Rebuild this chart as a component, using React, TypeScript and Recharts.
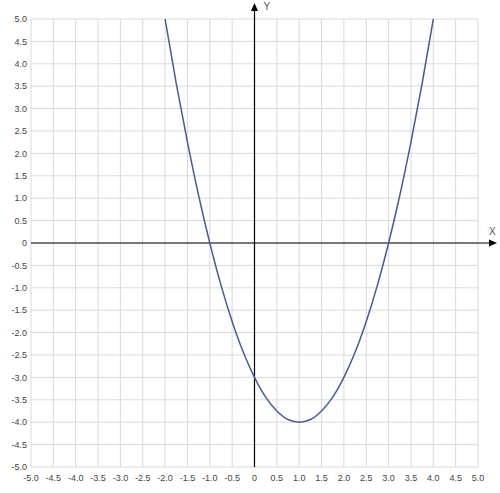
import { CartesianGrid, Line, LineChart, ReferenceLine, XAxis, YAxis } from "recharts";

const xValues = [-2, -1.75, -1.5, -1.25, -1, -0.75, -0.5, -0.25, 0, 0.25, 0.5, 0.75, 1, 1.25, 1.5, 1.75, 2, 2.25, 2.5, 2.75, 3, 3.25, 3.5, 3.75, 4];
const yValues = [5, 3.56, 2.25, 1.06, 0, -0.94, -1.75, -2.44, -3, -3.44, -3.75, -3.94, -4, -3.94, -3.75, -3.44, -3, -2.44, -1.75, -0.94, 0, 1.06, 2.25, 3.56, 5];
const ticks = [-5, -4.5, -4, -3.5, -3, -2.5, -2, -1.5, -1, -0.5, 0, 0.5, 1, 1.5, 2, 2.5, 3, 3.5, 4, 4.5, 5];

const data = xValues.map((x, i) => ({ x, y: yValues[i] }));
const fmt = (v: number) => (v === 0 ? "0" : v.toFixed(1));
const tickStyle = { fontSize: 9, fill: "#444", fontFamily: "Liberation Sans, Arial, sans-serif" };

const YArrow = (props: any) => {
  const { x1, y1, y2 } = props;
  const top = Math.min(y1, y2) - 16;
  const bottom = Math.max(y1, y2);
  return (
    <g>
      <line x1={x1} y1={bottom} x2={x1} y2={top + 6} stroke="#000" strokeWidth={1.2} />
      <polygon points={`${x1},${top} ${x1 - 3.5},${top + 8} ${x1 + 3.5},${top + 8}`} fill="#000" />
      <text x={x1 + 9} y={top + 7} fontSize={10} fill="#555" fontFamily="Liberation Sans, Arial, sans-serif">Y</text>
    </g>
  );
};

const XArrow = (props: any) => {
  const { x1, x2, y1 } = props;
  const left = Math.min(x1, x2);
  const right = Math.max(x1, x2) + 19;
  return (
    <g>
      <line x1={left} y1={y1} x2={right - 6} y2={y1} stroke="#000" strokeWidth={1.2} />
      <polygon points={`${right},${y1} ${right - 8},${y1 - 3.5} ${right - 8},${y1 + 3.5}`} fill="#000" />
      <text x={right - 8} y={y1 - 8} fontSize={10} fill="#555" fontFamily="Liberation Sans, Arial, sans-serif">X</text>
    </g>
  );
};

export default function App() {
  return (
    <div style={{ position: "absolute", left: 0, top: 0, width: 500, height: 493, background: "#fff" }}>
      <LineChart width={500} height={493} data={data} margin={{ top: 19, right: 22, left: 0, bottom: 0 }}>
        <CartesianGrid stroke="#d9d9d9" />
        <XAxis
          dataKey="x"
          type="number"
          domain={[-5, 5]}
          ticks={ticks}
          tickFormatter={fmt}
          interval={0}
          tickLine={false}
          axisLine={false}
          tick={tickStyle}
          height={26}
          tickSize={0}
          tickMargin={8}
        />
        <YAxis
          dataKey="y"
          type="number"
          domain={[-5, 5]}
          ticks={ticks}
          tickFormatter={fmt}
          interval={0}
          tickLine={false}
          axisLine={false}
          tick={tickStyle}
          width={31}
          tickSize={0}
          tickMargin={4}
        />
        <ReferenceLine y={0} ifOverflow="visible" shape={XArrow} />
        <ReferenceLine x={0} ifOverflow="visible" shape={YArrow} />
        <Line type="monotone" dataKey="y" stroke="#4b5a93" strokeWidth={1.5} dot={false} isAnimationActive={false} />
      </LineChart>
    </div>
  );
}
